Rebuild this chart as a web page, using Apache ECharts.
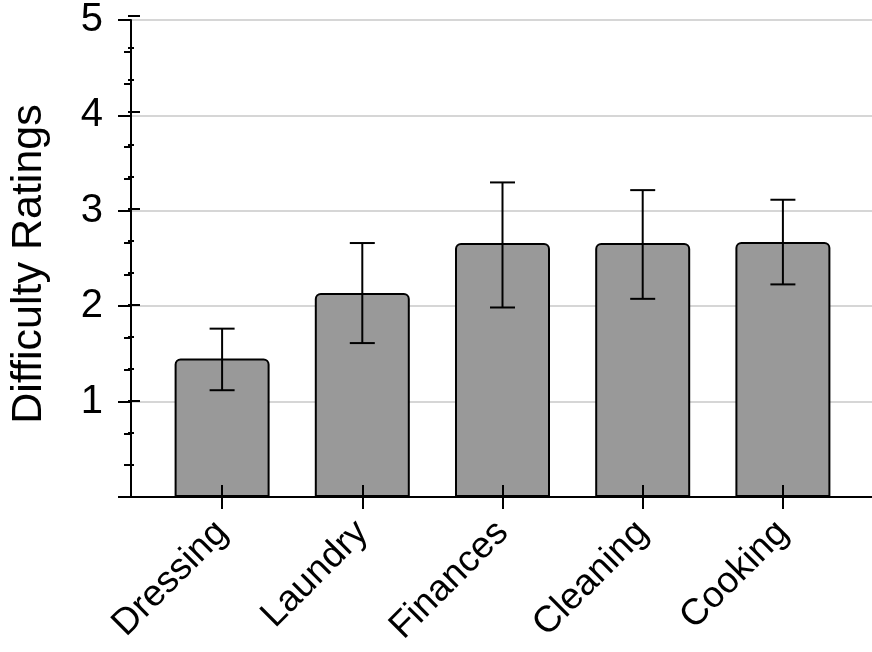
<!DOCTYPE html>
<html>
<head>
<meta charset="utf-8">
<script src="https://cdn.jsdelivr.net/npm/echarts@6/dist/echarts.min.js"></script>
<style>
    html, body { margin: 0; padding: 0; background: #fff; }
    #chart { width: 872px; height: 652px; }
</style>
</head>
<body>
<div id="chart"></div>
<script>
    // data
    var categories = ['Dressing', 'Laundry', 'Finances', 'Cleaning', 'Cooking'];
    var means = [1.44, 2.12, 2.64, 2.64, 2.65];
    var errLow = [1.11, 1.60, 1.97, 2.06, 2.21];
    var errHigh = [1.75, 2.64, 3.27, 3.19, 3.09];
    var yTicks = [0, 1, 2, 3, 4, 5];

    var font = 'Liberation Sans, Arial, sans-serif';
    var gridTop = 16, gridBottom = 155;

    var errData = [];
    categories.forEach(function (c, i) {
        errData.push([i, errLow[i], errHigh[i]]);
    });

    var myChart = echarts.init(document.getElementById('chart'));
    myChart.setOption({
        animation: false,
        grid: [
            // wide grid: y axis, split lines, x axis line
            { left: 128, right: 0, top: gridTop, bottom: gridBottom },
            // narrow grid: the bars and category ticks
            { left: 152, right: 19, top: gridTop, bottom: gridBottom }
        ],
        xAxis: [
            {
                gridIndex: 0, type: 'value', min: 0, max: 1,
                axisLine: { show: true, lineStyle: { color: '#000', width: 2 } },
                axisTick: { show: false },
                axisLabel: { show: false },
                splitLine: { show: false }
            },
            {
                gridIndex: 1, type: 'category', data: categories, position: 'bottom', z: 10,
                axisLine: { show: false },
                axisTick: { show: true, alignWithLabel: true, inside: true, length: 12, lineStyle: { color: '#000', width: 2 } },
                axisLabel: { show: false }
            },
            {
                gridIndex: 1, type: 'category', data: categories, position: 'bottom', z: 10,
                axisLine: { show: false },
                axisTick: { show: true, alignWithLabel: true, length: 12, lineStyle: { color: '#000', width: 2 } },
                axisLabel: {
                    rotate: 45, margin: 30, fontSize: 37, color: '#000', fontFamily: font,
                    interval: 0
                }
            }
        ],
        yAxis: [
            {
                gridIndex: 0, type: 'value', min: yTicks[0], max: yTicks[yTicks.length - 1], interval: 1,
                name: 'Difficulty Ratings', nameLocation: 'middle', nameGap: 80,
                nameTextStyle: { fontSize: 43, color: '#000', fontFamily: font, padding: [0, 11, 0, 0] },
                axisLine: { show: true, lineStyle: { color: '#000', width: 2 } },
                axisTick: { show: true, length: 13, lineStyle: { color: '#000', width: 2 } },
                minorTick: { show: true, splitNumber: 3, length: 7, lineStyle: { color: '#000', width: 2 } },
                axisLabel: {
                    margin: 28, fontSize: 40, color: '#000', fontFamily: font,
                    formatter: function (v) { return v === 0 ? '' : String(v); }
                },
                splitLine: { show: true, lineStyle: { color: '#c8c8c8', width: 1.5 } }
            },
            {
                gridIndex: 1, type: 'value', min: yTicks[0], max: yTicks[yTicks.length - 1], interval: 1,
                offset: 24,
                axisLine: { show: false },
                axisTick: { show: true, inside: true, length: 12, lineStyle: { color: '#000', width: 2 } },
                minorTick: { show: true, splitNumber: 3, length: 6, lineStyle: { color: '#000', width: 2 } },
                axisLabel: { show: false },
                splitLine: { show: false }
            }
        ],
        series: [
            {
                type: 'bar',
                xAxisIndex: 2,
                yAxisIndex: 1,
                data: means,
                barWidth: 95,
                itemStyle: { color: '#999999', borderColor: '#000', borderWidth: 2, borderRadius: [5, 5, 0, 0] },
                z: 2
            },
            {
                type: 'custom',
                xAxisIndex: 2,
                yAxisIndex: 1,
                data: errData,
                z: 5,
                renderItem: function (params, api) {
                    var lo = api.coord([api.value(0), api.value(1)]);
                    var hi = api.coord([api.value(0), api.value(2)]);
                    var w = 12.5;
                    var style = { stroke: '#000', lineWidth: 2 };
                    return {
                        type: 'group',
                        children: [
                            { type: 'line', shape: { x1: hi[0], y1: hi[1], x2: lo[0], y2: lo[1] }, style: style },
                            { type: 'line', shape: { x1: hi[0] - w, y1: hi[1], x2: hi[0] + w, y2: hi[1] }, style: style },
                            { type: 'line', shape: { x1: lo[0] - w, y1: lo[1], x2: lo[0] + w, y2: lo[1] }, style: style }
                        ]
                    };
                }
            }
        ]
    });
    window.addEventListener('resize', function () {
        myChart.resize();
    });
</script>
</body>
</html>
